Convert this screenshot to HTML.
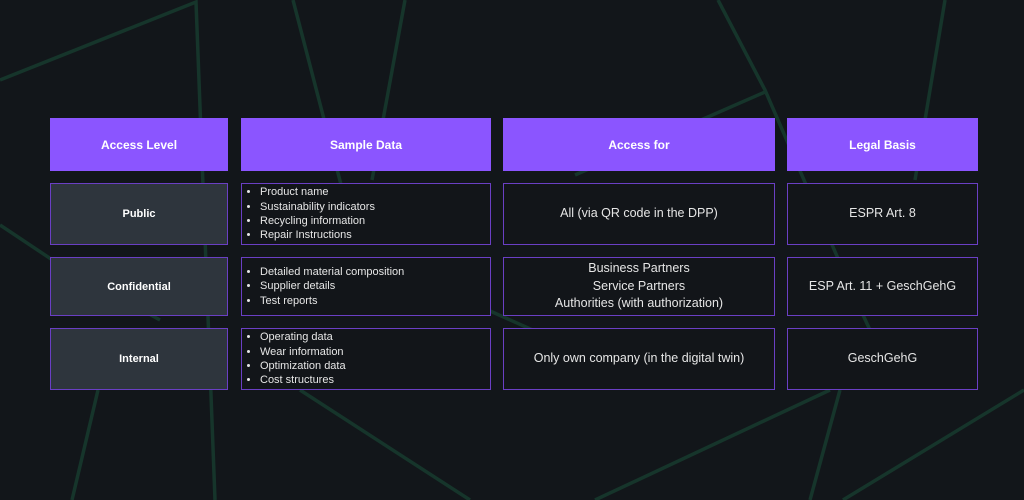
<!DOCTYPE html>
<html><head><style>
html,body{margin:0;padding:0;width:1024px;height:500px;overflow:hidden;background:#12161a;font-family:"Liberation Sans",sans-serif;}
svg{position:absolute;left:0;top:0}
.b{position:absolute;box-sizing:border-box;display:flex;align-items:center;justify-content:center;text-align:center;color:#e6e6e6;}
.h{background:#8b55ff;color:#fff;font-weight:bold;font-size:12px;}
.c{border:1.5px solid #6a3fc4;background:#121519;font-size:12.5px;line-height:17.5px}
.l{border:1.5px solid #6a3fc4;background:#2e353d;font-weight:bold;font-size:11px;color:#fff}
ul{margin:0;padding:0 0 0 18px;text-align:left;font-size:11px;line-height:14.3px;width:100%}
.lst{justify-content:flex-start}
</style></head><body>
<svg width="1024" height="500"><g stroke="#16352b" stroke-width="3.5" fill="none">
<polyline points="0,80 196,2 215,500"/>
<polyline points="293,0 345,200"/>
<polyline points="405,0 372,180"/>
<polyline points="718,0 765,90 856,300 870,330"/>
<polyline points="765,92 575,175"/>
<polyline points="945,0 915,180"/>
<polyline points="0,225 60,265 160,320"/>
<polyline points="72,500 98,390"/>
<polyline points="300,390 470,500"/>
<polyline points="380,262 600,360"/>
<polyline points="595,500 830,390"/>
<polyline points="810,500 840,390"/>
<polyline points="843,500 1024,390"/>
</g></svg>
<div class="b h" style="left:50px;top:118px;width:178px;height:53px">Access Level</div>
<div class="b h" style="left:241px;top:118px;width:250px;height:53px">Sample Data</div>
<div class="b h" style="left:503px;top:118px;width:272px;height:53px">Access for</div>
<div class="b h" style="left:787px;top:118px;width:191px;height:53px">Legal Basis</div>

<div class="b l" style="left:50px;top:183px;width:178px;height:62px">Public</div>
<div class="b c lst" style="left:241px;top:183px;width:250px;height:62px"><ul><li>Product name</li><li>Sustainability indicators</li><li>Recycling information</li><li>Repair Instructions</li></ul></div>
<div class="b c" style="left:503px;top:183px;width:272px;height:62px">All (via QR code in the DPP)</div>
<div class="b c" style="left:787px;top:183px;width:191px;height:62px">ESPR Art. 8</div>

<div class="b l" style="left:50px;top:257px;width:178px;height:59px">Confidential</div>
<div class="b c lst" style="left:241px;top:257px;width:250px;height:59px"><ul><li>Detailed material composition</li><li>Supplier details</li><li>Test reports</li></ul></div>
<div class="b c" style="left:503px;top:257px;width:272px;height:59px">Business Partners<br>Service Partners<br>Authorities (with authorization)</div>
<div class="b c" style="left:787px;top:257px;width:191px;height:59px">ESP Art. 11 + GeschGehG</div>

<div class="b l" style="left:50px;top:328px;width:178px;height:62px">Internal</div>
<div class="b c lst" style="left:241px;top:328px;width:250px;height:62px"><ul><li>Operating data</li><li>Wear information</li><li>Optimization data</li><li>Cost structures</li></ul></div>
<div class="b c" style="left:503px;top:328px;width:272px;height:62px">Only own company (in the digital twin)</div>
<div class="b c" style="left:787px;top:328px;width:191px;height:62px">GeschGehG</div>
</body></html>
